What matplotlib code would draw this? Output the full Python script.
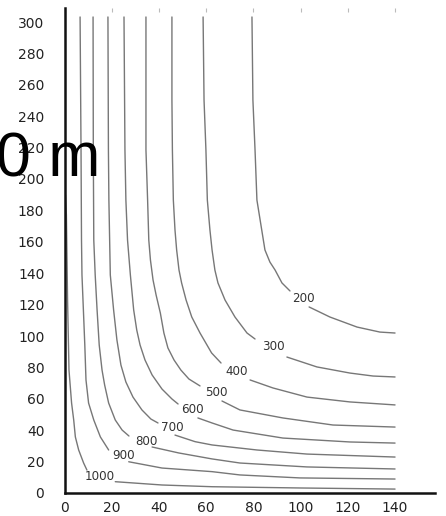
import numpy as np
import matplotlib
matplotlib.use("Agg")
import matplotlib.pyplot as plt

nan = np.nan

# contour levels (labels) and traced isolines (NaN = gap under the label)
levels = [200, 300, 400, 500, 600, 700, 800, 900, 1000]

x_200 = [79.4, 79.8, 80.7, 81.5, 83.2, 84.9, 87.0, 89.2, 92.1, 95.5, nan,
         103.6, 112.4, 123.9, 133.6, 140.0]
y_200 = [303.2, 250.3, 218.5, 186.6, 170.7, 154.8, 147.1, 142.0, 133.8, 128.7, nan,
         118.5, 112.1, 105.7, 102.5, 101.9]

x_300 = [58.7, 59.1, 59.9, 60.5, 61.6, 62.5, 63.7, 65.0, 68.0, 72.2, 77.3, 80.7, nan,
         94.2, 106.9, 120.9, 130.7, 140.0]
y_300 = [303.2, 250.3, 218.5, 186.6, 167.5, 154.8, 142.0, 133.8, 122.9, 112.1, 101.9, 98.1, nan,
         86.6, 80.3, 76.4, 74.5, 73.9]

x_400 = [45.5, 45.5, 45.7, 46.1, 46.8, 47.5, 48.5, 49.6, 51.5, 53.9, 57.4, 62.3, 66.3, nan,
         78.6, 88.3, 102.7, 120.9, 140.0]
y_400 = [303.2, 250.3, 218.5, 186.6, 167.5, 154.8, 142.0, 133.8, 122.9, 112.1, 101.9, 89.2, 82.8, nan,
         72.0, 66.9, 61.1, 58.0, 56.1]

x_500 = [34.5, 34.5, 35.2, 35.7, 36.4, 37.5, 38.8, 40.6, 42.1, 43.8, 46.4, 49.3, 52.7, 57.4, nan,
         66.7, 74.3, 92.5, 113.7, 140.0]
y_500 = [303.2, 218.5, 186.6, 161.1, 148.4, 135.7, 126.1, 114.6, 101.9, 92.4, 84.7, 78.3, 72.6, 68.2, nan,
         58.6, 52.9, 47.8, 43.3, 42.0]

x_600 = [25.2, 25.6, 26.0, 26.7, 27.9, 29.3, 30.6, 32.0, 34.1, 37.1, 41.3, 45.5, 48.1, nan,
         56.5, 62.5, 71.4, 92.5, 120.9, 140.0]
y_600 = [303.2, 218.5, 186.6, 161.1, 138.9, 116.6, 103.8, 94.3, 84.7, 75.2, 66.2, 59.9, 56.7, nan,
         47.8, 44.6, 40.1, 35.0, 32.5, 31.8]

x_700 = [18.4, 18.6, 18.8, 19.4, 20.8, 22.2, 23.9, 26.0, 29.0, 32.8, 36.6, 39.6, nan,
         46.8, 55.3, 62.5, 81.5, 102.7, 140.0]
y_700 = [303.2, 218.5, 186.6, 138.9, 116.6, 97.5, 81.5, 70.7, 61.1, 52.9, 47.1, 44.6, nan,
         36.9, 32.7, 30.6, 27.4, 24.8, 22.9]

x_800 = [12.1, 12.2, 12.4, 13.0, 13.8, 14.7, 15.9, 17.0, 18.7, 21.5, 24.4, 27.3, nan,
         37.1, 48.4, 62.5, 74.3, 102.7, 140.0]
y_800 = [303.2, 218.5, 161.1, 138.9, 116.6, 94.3, 78.3, 68.8, 57.3, 46.5, 40.1, 36.3, nan,
         29.3, 25.5, 21.7, 19.1, 16.6, 15.3]

x_900 = [6.6, 7.0, 7.2, 7.4, 8.0, 8.6, 9.1, 10.2, 12.4, 15.2, 18.7, nan,
         27.2, 41.3, 62.5, 74.3, 99.7, 140.0]
y_900 = [303.2, 218.5, 161.1, 138.9, 116.6, 94.3, 72.0, 57.3, 46.5, 35.7, 27.4, nan,
         19.9, 15.9, 13.6, 11.5, 9.6, 8.9]

x_1000 = [0.4, 0.8, 1.3, 1.9, 3.0, 3.9, 4.6, 6.0, 8.1, 9.5, nan,
          21.5, 41.3, 62.5, 99.7, 140.0]
y_1000 = [189.8, 177.1, 122.9, 78.3, 57.3, 46.5, 35.7, 27.4, 19.1, 14.6, nan,
          7.2, 5.1, 4.0, 3.2, 2.5]

curves_x = [x_200, x_300, x_400, x_500, x_600, x_700, x_800, x_900, x_1000]
curves_y = [y_200, y_300, y_400, y_500, y_600, y_700, y_800, y_900, y_1000]

# label anchor points (data coords)
label_x = [101.0, 88.3, 73.1, 64.2, 54.0, 45.5, 34.9, 25.1, 15.0]
label_y = [124.2, 93.0, 77.1, 64.3, 52.9, 42.0, 33.1, 23.6, 10.2]

x_ticks = [0, 20, 40, 60, 80, 100, 120, 140]
y_ticks = [0, 20, 40, 60, 80, 100, 120, 140, 160, 180, 200, 220, 240, 260, 280, 300]

fig = plt.figure(figsize=(4.46, 5.16), dpi=100)
ax = fig.add_axes([64.5 / 446, 23 / 516, (435 - 64.5) / 446, (493 - 8) / 516])
ax.set_xlim(0, (435 - 64.5) / 2.361)
ax.set_ylim(0, (493 - 8) / 1.57)

for cx, cy in zip(curves_x, curves_y):
    ax.plot(cx, cy, color="#777777", lw=1.0, solid_capstyle="round",
            solid_joinstyle="round")

for lv, lx, ly in zip(levels, label_x, label_y):
    ax.text(lx, ly, str(lv), ha="center", va="center", fontsize=8.6,
            color="#333333")

for s in ["top", "right"]:
    ax.spines[s].set_visible(False)
for s in ["left", "bottom"]:
    ax.spines[s].set_linewidth(1.8)
    ax.spines[s].set_color("#111111")

ax.set_xticks(x_ticks)
ax.set_yticks(y_ticks)
ax.tick_params(axis="x", bottom=False, top=True, direction="in", length=3,
               color="#bbbbbb", width=0.8, labelsize=10, labelcolor="#222222", pad=6)
ax.tick_params(axis="y", left=False, labelsize=10, labelcolor="#222222", pad=11)

fig.text(100 / 446, 1 - 177 / 516, "0 m", ha="right", va="baseline",
         fontsize=45, color="black", family="Liberation Sans", zorder=10)

fig.savefig("out.png", dpi=100)
